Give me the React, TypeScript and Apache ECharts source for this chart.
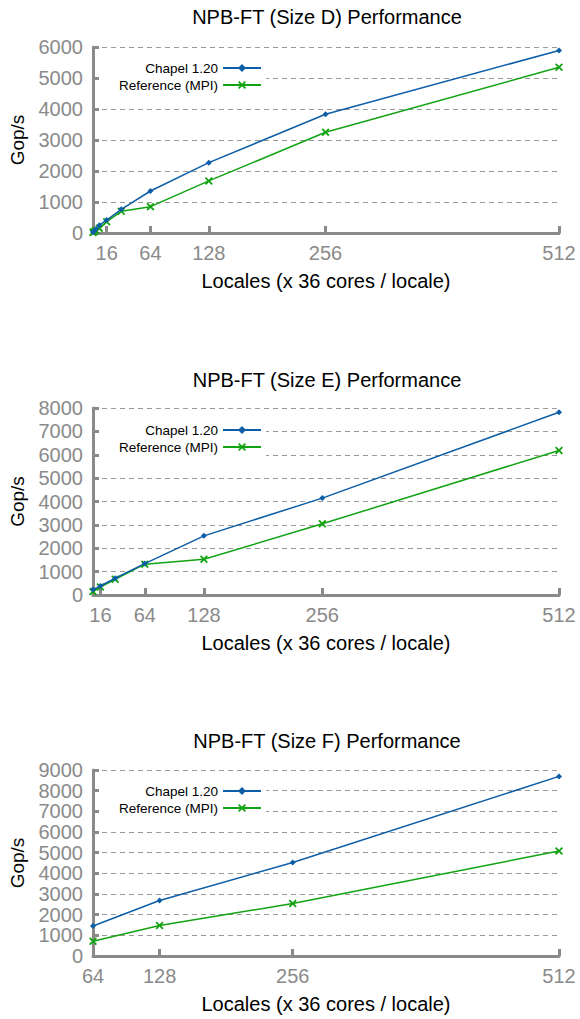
import React, { useEffect, useRef } from "react";
import * as echarts from "echarts";

// ---- data ----
const seriesNames = ["Chapel 1.20", "Reference (MPI)"];
const titles = [
  "NPB-FT (Size D) Performance",
  "NPB-FT (Size E) Performance",
  "NPB-FT (Size F) Performance",
];
const xAxisName = "Locales (x 36 cores / locale)";
const yAxisName = "Gop/s";

const localesD = [1, 2, 4, 8, 16, 32, 64, 128, 256, 512];
const chapelD = [30, 60, 120, 250, 420, 765, 1355, 2270, 3830, 5890];
const refD = [20, 40, 80, 150, 365, 700, 850, 1680, 3250, 5345];

const localesE = [8, 16, 32, 64, 128, 256, 512];
const chapelE = [230, 385, 715, 1343, 2530, 4145, 7815];
const refE = [145, 340, 673, 1320, 1530, 3045, 6185];

const localesF = [64, 128, 256, 512];
const chapelF = [1450, 2685, 4525, 8690];
const refF = [713, 1473, 2540, 5080];

const xTicksDE = [16, 64, 128, 256, 512];
const xTicksF = [64, 128, 256, 512];
const yMaxes = [6000, 8000, 9000];
const xMins = [1, 8, 64];

// ---- styles ----
const FONT = "'Liberation Sans', Arial, Helvetica, sans-serif";
const BLUE = "#0d5ea6";
const GREEN = "#12a312";
const AXIS_GRAY = "#8a8a8a";
const X_SYMBOL =
  "path://M0,1.6L1.6,0L5,3.4L8.4,0L10,1.6L6.6,5L10,8.4L8.4,10L5,6.6L1.6,10L0,8.4L3.4,5Z";

const gridTops = [47, 408, 770];
const gridHeights = [186, 187, 186];
const titleTops = [7, 370, 731];
const legendTops = [57, 419, 780];

function pairs(xs: number[], ys: number[]) {
  return xs.map((x, i) => [x, ys[i]]);
}

export default function App() {
  const ref = useRef<HTMLDivElement>(null);
  useEffect(() => {
    const chart = echarts.init(ref.current!, null, { renderer: "svg" });
    const panels = [
      { xs: localesD, a: chapelD, b: refD, ticks: xTicksDE },
      { xs: localesE, a: chapelE, b: refE, ticks: xTicksDE },
      { xs: localesF, a: chapelF, b: refF, ticks: xTicksF },
    ];

    const option: any = {
      animation: false,
      backgroundColor: "#fff",
      title: titles.map((t, i) => ({
        text: t,
        left: 327,
        top: titleTops[i],
        textAlign: "center",
        padding: 0,
        textStyle: { fontFamily: FONT, fontSize: 20, fontWeight: "normal", color: "#000" },
      })),
      legend: panels.map((_, i) => ({
        orient: "vertical",
        align: "right",
        left: 101,
        top: legendTops[i],
        itemWidth: 38,
        itemHeight: 10,
        itemGap: 3,
        padding: [4, 4, 4, 18],
        backgroundColor: "#fff",
        selectedMode: false,
        data: seriesNames,
        textStyle: { fontFamily: FONT, fontSize: 13.5, color: "#000" },
      })),
      grid: panels.map((_, i) => ({
        left: 93,
        right: 21,
        top: gridTops[i],
        height: gridHeights[i],
      })),
      xAxis: panels.map((p, i) => ({
        gridIndex: i,
        type: "value",
        min: xMins[i],
        max: 512,
        name: xAxisName,
        nameLocation: "middle",
        nameGap: 38,
        nameTextStyle: { fontFamily: FONT, fontSize: 20, color: "#000" },
        axisLine: { show: true, onZero: false, lineStyle: { color: AXIS_GRAY, width: 3 } },
        axisTick: {
          show: true,
          inside: true,
          length: 7,
          customValues: p.ticks,
          lineStyle: { color: AXIS_GRAY, width: 3 },
        },
        axisLabel: {
          customValues: p.ticks,
          color: AXIS_GRAY,
          fontFamily: FONT,
          fontSize: 20,
          margin: 10,
          formatter: (v: number) => String(v),
        },
        splitLine: { show: false },
      })),
      yAxis: panels.map((_, i) => ({
        gridIndex: i,
        type: "value",
        min: 0,
        max: yMaxes[i],
        interval: 1000,
        name: yAxisName,
        nameLocation: "middle",
        nameRotate: 90,
        nameGap: 66,
        nameTextStyle: { fontFamily: FONT, fontSize: 19, color: "#000" },
        axisLine: { show: true, lineStyle: { color: AXIS_GRAY, width: 3 } },
        axisTick: { show: true, inside: true, length: 6, lineStyle: { color: AXIS_GRAY, width: 3 } },
        axisLabel: {
          color: AXIS_GRAY,
          fontFamily: FONT,
          fontSize: 20,
          margin: 10,
          formatter: (v: number) => String(v),
        },
        splitLine: { show: true, lineStyle: { color: "#999", width: 1, type: [5, 4] } },
      })),
      series: panels.flatMap((p, i) => [
        {
          name: seriesNames[0],
          type: "line",
          xAxisIndex: i,
          yAxisIndex: i,
          data: pairs(p.xs, p.a),
          symbol: "diamond",
          symbolSize: 6,
          lineStyle: { color: BLUE, width: 1.5 },
          itemStyle: { color: BLUE },
          z: 3,
        },
        {
          name: seriesNames[1],
          type: "line",
          xAxisIndex: i,
          yAxisIndex: i,
          data: pairs(p.xs, p.b),
          symbol: X_SYMBOL,
          symbolSize: 8,
          lineStyle: { color: GREEN, width: 1.5 },
          itemStyle: { color: GREEN },
          z: 2,
        },
      ]),
    };
    chart.setOption(option);
    return () => chart.dispose();
  }, []);
  return (
    <div
      ref={ref}
      style={{ position: "fixed", left: 0, top: 0, width: 580, height: 1019, background: "#fff" }}
    />
  );
}
